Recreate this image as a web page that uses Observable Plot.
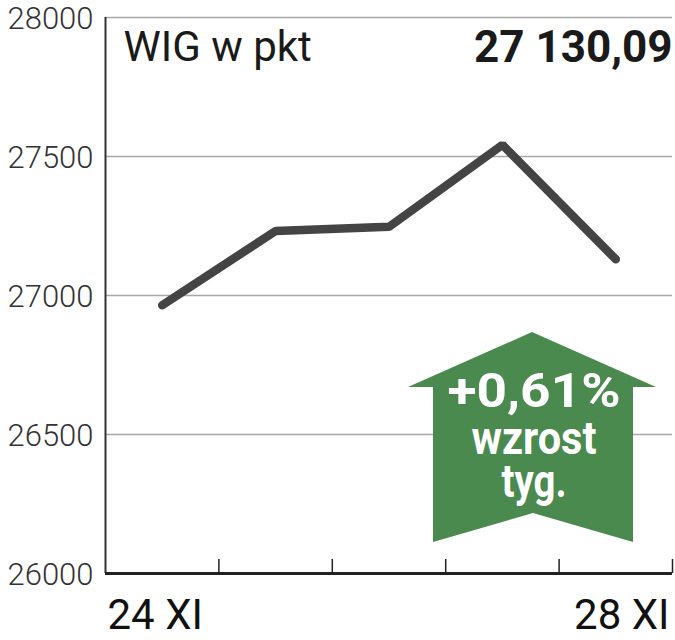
<!DOCTYPE html>
<html>
<head>
<meta charset="utf-8">
<script src="https://cdn.jsdelivr.net/npm/d3@7"></script>
<script src="https://cdn.jsdelivr.net/npm/@observablehq/plot@0.6"></script>
<style>
  html, body { margin: 0; padding: 0; background: #fff; }
  #chart svg { display: block; }
</style>
</head>
<body>
<div id="chart"></div>
<script>
// ---- data ----
const days = ["24 XI", "25 XI", "26 XI", "27 XI", "28 XI"];
const values = [26965, 27232, 27247, 27542, 27130.09];
const yTicks = [26000, 26500, 27000, 27500, 28000];
const title = "WIG w pkt";
const lastValue = "27 130,09";
const changeLines = ["+0,61%", "wzrost", "tyg."];

const data = days.map((d, i) => ({i, day: d, value: values[i]}));
const bounds = days.map((d, i) => i + 0.5); // band boundaries between days
const W = 675, H = 640, mTop = 17, mBottom = 67, mLeft = 105, mRight = 3;
const frameH = H - mTop - mBottom;

const svg = Plot.plot({
  width: W,
  height: H,
  marginTop: mTop,
  marginBottom: mBottom,
  marginLeft: mLeft,
  marginRight: mRight,
  x: {domain: [-0.5, days.length - 0.5], axis: null},
  y: {domain: [yTicks[0], yTicks[yTicks.length - 1]], axis: null},
  style: {fontFamily: "Roboto, 'DejaVu Sans', sans-serif", background: "#fff", overflow: "visible"},
  marks: [
    Plot.ruleY(yTicks.slice(1), {stroke: "#a8a8a8", strokeWidth: 1.5}),
    Plot.ruleX([-0.5], {stroke: "#333", strokeWidth: 2}),
    Plot.ruleY([yTicks[0]], {stroke: "#222", strokeWidth: 3}),
    Plot.ruleX(bounds, {x: d => d, stroke: "#222", strokeWidth: 1.5, insetTop: frameH - 14}),
    Plot.text(yTicks, {y: d => d, frameAnchor: "left", text: d => String(d), textAnchor: "end", dx: -12, dy: 2, fontSize: 31, fontWeight: 300, fill: "#333"}),
    Plot.line(data, {x: "i", y: "value", stroke: "#444", strokeWidth: 8.5, strokeLinecap: "round", strokeLinejoin: "miter"}),
    Plot.text([days[0]], {frameAnchor: "bottom-left", text: d => d, textAnchor: "start", dx: 2, dy: 42, lineAnchor: "middle", fontSize: 42, fill: "#111"}),
    Plot.text([days[days.length - 1]], {frameAnchor: "bottom-right", text: d => d, textAnchor: "end", dx: -3, dy: 42, lineAnchor: "middle", fontSize: 42, fill: "#111"}),
    Plot.text([title], {frameAnchor: "top-left", text: d => d, textAnchor: "start", dx: 18, dy: 30, lineAnchor: "middle", fontSize: 42, fill: "#1a1a1a"}),
    Plot.text([lastValue], {frameAnchor: "top-right", text: d => d, textAnchor: "end", dx: 0, dy: 30, lineAnchor: "middle", fontSize: 44, fontWeight: "bold", fill: "#1a1a1a"})
  ]
});

// green "up" arrow annotation
const g = d3.select(svg).append("g");
const arrowPts = [[532,332],[656,387],[633,387],[633,542],[533,513],[433,542],[433,387],[408,387]];
g.append("path")
  .attr("d", "M" + arrowPts.map(p => p.join(",")).join("L") + "Z")
  .attr("fill", "#4a8a4e");
const textSpecs = [
  {y: 407, size: 48, len: 173},
  {y: 454, size: 46, len: 125},
  {y: 497, size: 46, len: 65}
];
changeLines.forEach((t, k) => {
  const s = textSpecs[k];
  g.append("text")
    .attr("x", 534)
    .attr("y", s.y)
    .attr("text-anchor", "middle")
    .attr("font-family", "Roboto, sans-serif")
    .attr("font-weight", "bold")
    .attr("font-size", s.size)
    .attr("fill", "#fff")
    .attr("textLength", s.len)
    .attr("lengthAdjust", "spacingAndGlyphs")
    .text(t);
});

document.getElementById("chart").appendChild(svg);
</script>
</body>
</html>
